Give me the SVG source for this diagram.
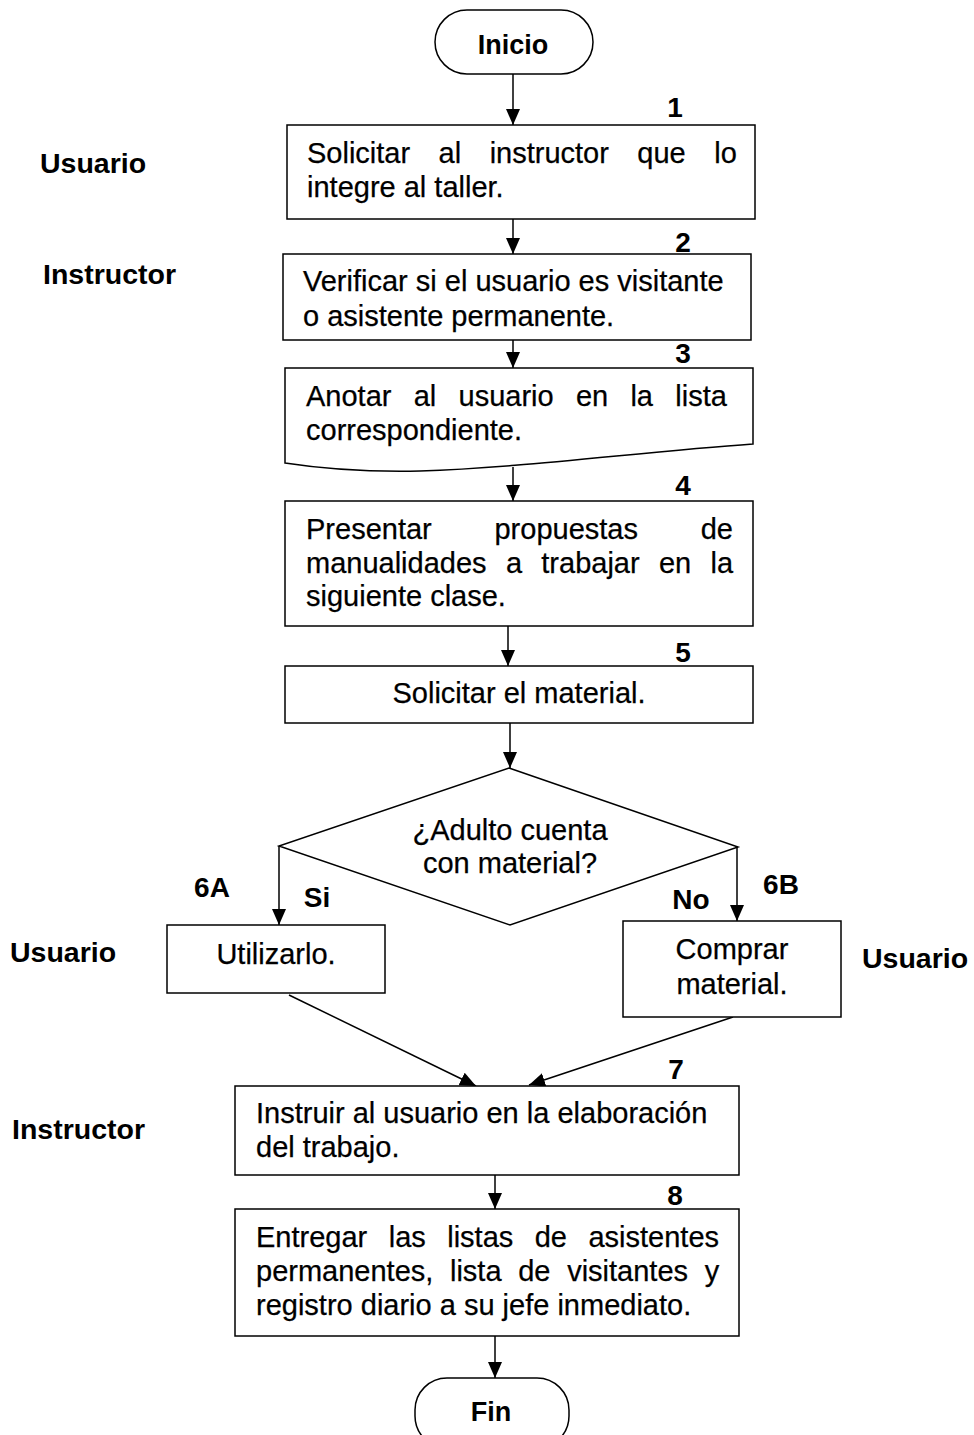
<svg xmlns="http://www.w3.org/2000/svg" width="974" height="1435" viewBox="0 0 974 1435">
<style>
.box{fill:#fff;stroke:#000;stroke-width:1.5}
.t{font-family:"Liberation Sans",Arial,sans-serif;font-size:29px;fill:#000;stroke:#000;stroke-width:0.25}
.c{text-anchor:middle}
.b{font-family:"Liberation Sans",Arial,sans-serif;font-size:28.5px;font-weight:bold;fill:#000}
.n{font-family:"Liberation Sans",Arial,sans-serif;font-size:28px;font-weight:bold;fill:#000;text-anchor:middle}
.ln{fill:none;stroke:#000;stroke-width:1.5}
.arr{marker-end:url(#ah)}
</style>
<defs>
<marker id="ah" viewBox="0 0 16 14" refX="16" refY="7" markerWidth="16" markerHeight="14" markerUnits="userSpaceOnUse" orient="auto">
<path d="M0,0 L16,7 L0,14 Z" fill="#000"/>
</marker>
</defs>
<rect width="974" height="1435" fill="#fff"/>

<g id="connectors">
<line class="ln arr" x1="513" y1="74" x2="513" y2="125"/>
<line class="ln arr" x1="513" y1="219" x2="513" y2="254"/>
<line class="ln arr" x1="513" y1="340" x2="513" y2="368"/>
<line class="ln arr" x1="513" y1="467" x2="513" y2="501"/>
<line class="ln arr" x1="508" y1="626" x2="508" y2="666"/>
<line class="ln arr" x1="510" y1="723" x2="510" y2="768"/>
<line class="ln arr" x1="279" y1="846" x2="279" y2="925"/>
<line class="ln arr" x1="737" y1="847" x2="737" y2="921"/>
<line class="ln arr" x1="289" y1="995" x2="476" y2="1086"/>
<line class="ln arr" x1="733" y1="1017" x2="529" y2="1085"/>
<line class="ln arr" x1="495" y1="1175" x2="495" y2="1209"/>
<line class="ln arr" x1="495" y1="1336" x2="495" y2="1378"/>
</g>

<g id="lanes">
<text class="b" x="40" y="173">Usuario</text>
<text class="b" x="43" y="284">Instructor</text>
<text class="b" x="10" y="962">Usuario</text>
<text class="b" x="12" y="1139">Instructor</text>
<text class="b" x="862" y="968">Usuario</text>
</g>

<g id="inicio">
<rect class="box" x="435" y="10" width="158" height="64" rx="32" ry="32"/>
<text class="n" x="513" y="54" style="font-size:27px">Inicio</text>
</g>

<g id="step1">
<rect class="box" x="287" y="125" width="468" height="94"/>
<text class="n" x="675" y="117">1</text>
<text class="t" x="307" y="163" style="word-spacing:20.4px">Solicitar al instructor que lo</text>
<text class="t" x="307" y="197">integre al taller.</text>
</g>

<g id="step2">
<rect class="box" x="283" y="254" width="468" height="86"/>
<text class="n" x="683" y="252">2</text>
<text class="t" x="303" y="291">Verificar si el usuario es visitante</text>
<text class="t" x="303" y="326">o asistente permanente.</text>
</g>

<g id="step3">
<path class="box" d="M285,368 H753 V444 C640,452 520,468 420,471 C370,472 330,470 285,463 Z"/>
<text class="n" x="683" y="363">3</text>
<text class="t" x="306" y="406" style="word-spacing:14.2px">Anotar al usuario en la lista</text>
<text class="t" x="306" y="440">correspondiente.</text>
</g>

<g id="step4">
<rect class="box" x="285" y="501" width="468" height="125"/>
<text class="n" x="683" y="495">4</text>
<text class="t" x="306" y="539" style="word-spacing:54.7px">Presentar propuestas de</text>
<text class="t" x="306" y="573" style="word-spacing:11.25px">manualidades a trabajar en la</text>
<text class="t" x="306" y="606">siguiente clase.</text>
</g>

<g id="step5">
<rect class="box" x="285" y="666" width="468" height="57"/>
<text class="n" x="683" y="662">5</text>
<text class="t c" x="519" y="703">Solicitar el material.</text>
</g>

<g id="decision">
<path class="box" d="M509,768 L738,847 L510,925 L279,846 Z"/>
<text class="t c" x="510" y="840">¿Adulto cuenta</text>
<text class="t c" x="510" y="873">con material?</text>
<text class="n" x="212" y="897">6A</text>
<text class="n" x="317" y="907">Si</text>
<text class="n" x="691" y="909">No</text>
<text class="n" x="781" y="894">6B</text>
</g>

<g id="step6a">
<rect class="box" x="167" y="925" width="218" height="68"/>
<text class="t c" x="276" y="964">Utilizarlo.</text>
</g>

<g id="step6b">
<rect class="box" x="623" y="921" width="218" height="96"/>
<text class="t c" x="732" y="959">Comprar</text>
<text class="t c" x="732" y="994">material.</text>
</g>

<g id="step7">
<rect class="box" x="235" y="1086" width="504" height="89"/>
<text class="n" x="676" y="1079">7</text>
<text class="t" x="256" y="1123">Instruir al usuario en la elaboración</text>
<text class="t" x="256" y="1157">del trabajo.</text>
</g>

<g id="step8">
<rect class="box" x="235" y="1209" width="504" height="127"/>
<text class="n" x="675" y="1205">8</text>
<text class="t" x="256" y="1247" style="word-spacing:13.4px">Entregar las listas de asistentes</text>
<text class="t" x="256" y="1281" style="word-spacing:8.6px">permanentes, lista de visitantes y</text>
<text class="t" x="256" y="1315">registro diario a su jefe inmediato.</text>
</g>

<g id="fin">
<rect class="box" x="415" y="1378" width="154" height="70" rx="32" ry="32"/>
<text class="n" x="491" y="1421" style="font-size:27px">Fin</text>
</g>
</svg>
